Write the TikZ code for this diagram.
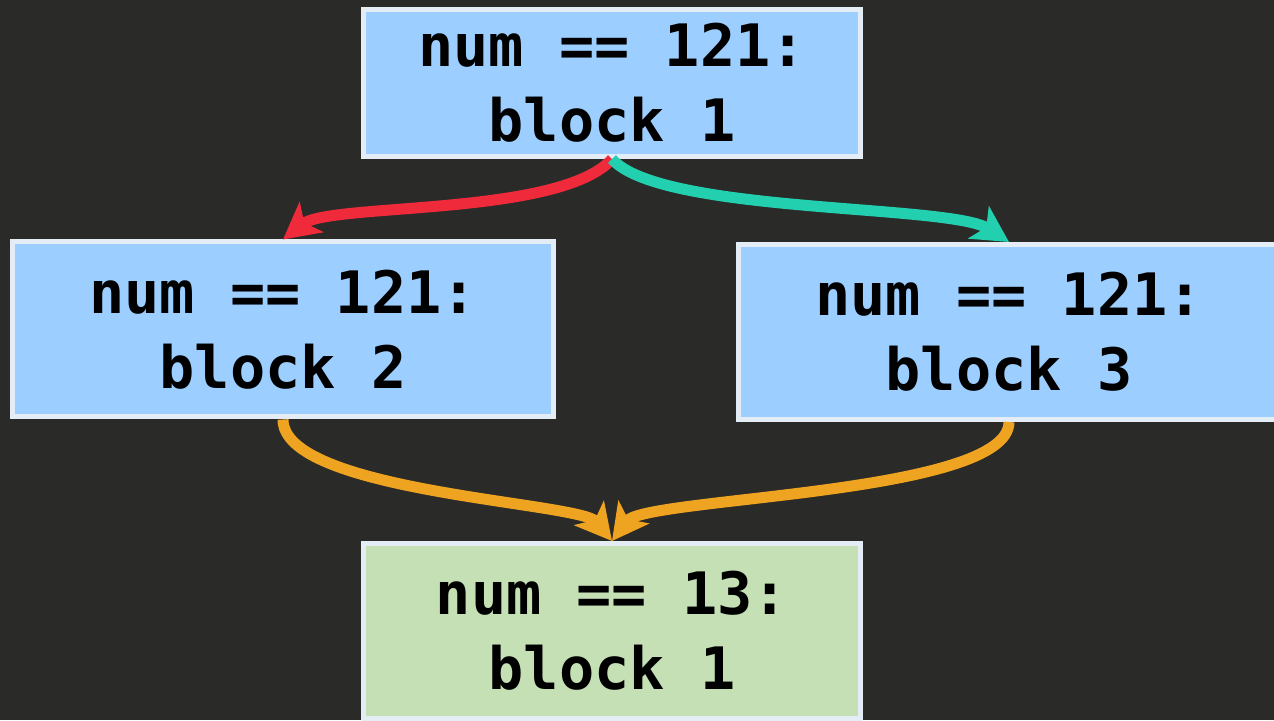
\documentclass[tikz,border=0pt]{standalone}
\usepackage{fontspec}
\setmonofont{DejaVu Sans Mono}
\usetikzlibrary{arrows.meta}
\definecolor{bg}{HTML}{2A2A28}
\definecolor{blockblue}{HTML}{9CCFFF}
\definecolor{blockgreen}{HTML}{C5E0B4}
\definecolor{rim}{HTML}{E4EDF5}
\definecolor{redge}{HTML}{EE2A3B}
\definecolor{tealedge}{HTML}{22CFAE}
\definecolor{orangeedge}{HTML}{EEA321}
\begin{document}
\begin{tikzpicture}[x=1pt,y=1pt,
  block/.style={draw=rim,line width=5pt,fill=blockblue,align=center,inner sep=0pt,
    minimum width=541pt,minimum height=175pt,
    font=\ttfamily\bfseries\fontsize{58.5}{75}\selectfont},
  edge/.style={line width=11pt,-{Stealth[length=36pt,width=38pt,inset=9pt]}}]
\useasboundingbox(0,0)rectangle(1274,720);
\clip(0,0)rectangle(1274,720);
\fill[bg](0,0)rectangle(1274,720);
%blocks
\node[block,minimum width=497pt,minimum height=147pt](b1)at(612,637){num == 121:\\block 1};
\node[block](b2)at(283,390.5){num == 121:\\block 2};
\node[block](b3)at(1009,388){num == 121:\\block 3};
\node[block,fill=blockgreen,minimum width=497pt](b4)at(612,89){num == 13:\\block 1};
%edges
\draw[edge,redge](b1.south)..controls +(-52,-58) and +(47,37)..(b2.north);
\draw[edge,tealedge](b1.south)..controls +(48,-55) and +(-59,38)..(b3.north);
\draw[edge,orangeedge](b2.south)..controls +(0,-73) and +(-32,39)..(b4.north);
\draw[edge,orangeedge](b3.south)..controls +(0,-73) and +(33,44)..(b4.north);
\end{tikzpicture}
\end{document}
